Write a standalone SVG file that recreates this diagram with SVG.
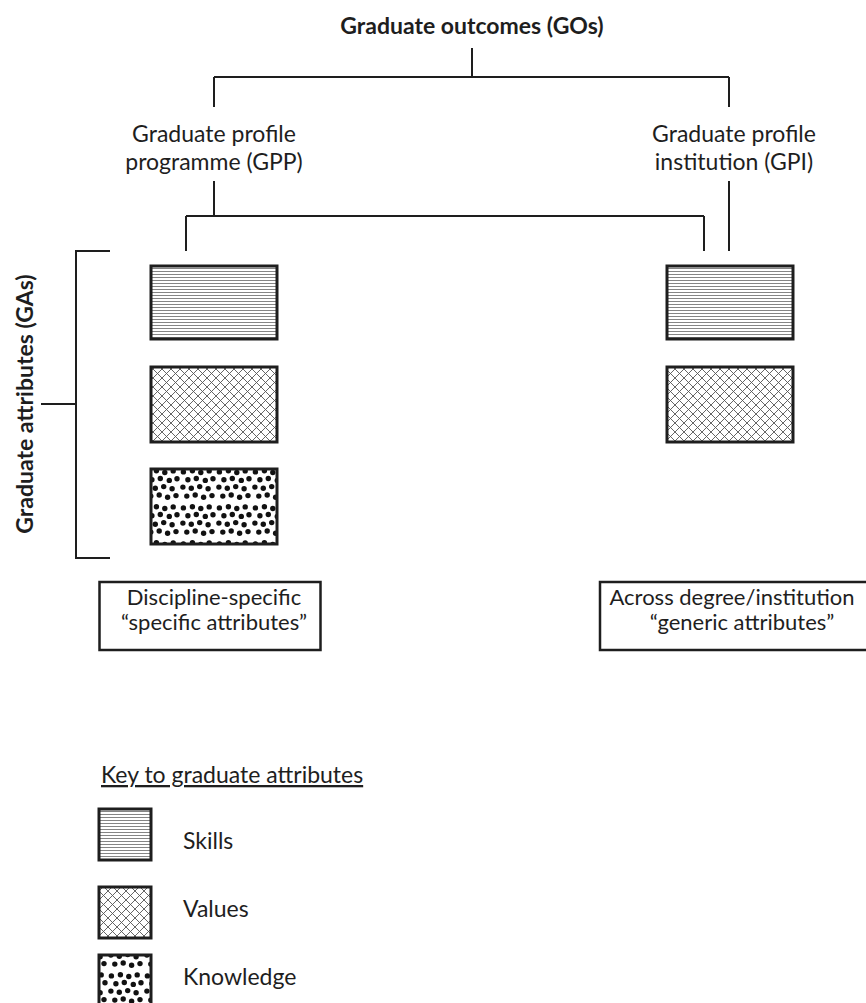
<svg xmlns="http://www.w3.org/2000/svg" width="866" height="1003" viewBox="0 0 866 1003">
<style>
text{font-family:Lato,"Liberation Sans",sans-serif;fill:#1e1e1e;font-size:23px}
.b{font-weight:bold}
.m{text-anchor:middle}
.s{font-size:22px}
.ln{fill:none;stroke:#1e1e1e;stroke-width:2}
.box{stroke:#1e1e1e;stroke-width:3}
.lbl{fill:#fff;stroke:#1e1e1e;stroke-width:2.5}
</style>
<defs>
<pattern id="skills" width="10" height="3" patternUnits="userSpaceOnUse">
<rect width="10" height="3" fill="#fff"/>
<rect y="1" width="10" height="1" fill="#858585"/>
</pattern>
<pattern id="values" width="9" height="9" patternUnits="userSpaceOnUse">
<rect width="9" height="9" fill="#fff"/>
<path d="M0,0L9,9M9,0L0,9" stroke="#555" stroke-width="0.9"/>
</pattern>
<pattern id="knowledge" width="36" height="36" patternUnits="userSpaceOnUse">
<rect width="36" height="36" fill="#fff"/>
<g fill="#111">
<circle cx="3.4" cy="3.9" r="2.7"/><circle cx="12.4" cy="2.8" r="2.7"/><circle cx="20.8" cy="4.5" r="2.7"/><circle cx="29.2" cy="2.9" r="2.7"/>
<circle cx="7.9" cy="11.8" r="2.7"/><circle cx="16.3" cy="10.5" r="2.7"/><circle cx="25.3" cy="12.4" r="2.7"/><circle cx="33" cy="10.7" r="2.7"/>
<circle cx="2.9" cy="19.1" r="2.7"/><circle cx="11.3" cy="20.3" r="2.7"/><circle cx="19.7" cy="18.6" r="2.7"/><circle cx="28.1" cy="20.8" r="2.7"/>
<circle cx="6.8" cy="28.1" r="2.7"/><circle cx="15.2" cy="27" r="2.7"/><circle cx="23.6" cy="29.3" r="2.7"/><circle cx="32" cy="27.6" r="2.7"/>
</g>
</pattern>
</defs>

<g id="connectors">
<path class="ln" d="M472,48V77M214,77H729M214,77V107M729,77V107"/>
<path class="ln" d="M214,181V216M186,216H704M186,216V251M704,216V251M729,181V251"/>
<path class="ln" d="M110,251H76V558H110M41,404H76"/>
</g>

<g id="go"><text class="b m" x="472" y="34">Graduate outcomes (GOs)</text></g>
<g id="gpp"><text class="m" x="214" y="142">Graduate profile</text><text class="m" x="214" y="170">programme (GPP)</text></g>
<g id="gpi"><text class="m" x="734" y="142">Graduate profile</text><text class="m" x="734" y="170">institution (GPI)</text></g>
<g id="ga"><text class="b m" transform="translate(33,404) rotate(-90)">Graduate attributes (GAs)</text></g>

<g id="gpp-skills"><rect class="box" x="151" y="266" width="126" height="73" fill="url(#skills)"/></g>
<g id="gpp-values"><rect class="box" x="151" y="367" width="126" height="75" fill="url(#values)"/></g>
<g id="gpp-knowledge"><rect class="box" x="151" y="469" width="126" height="75" fill="url(#knowledge)"/></g>
<g id="gpi-skills"><rect class="box" x="667" y="266" width="126" height="73" fill="url(#skills)"/></g>
<g id="gpi-values"><rect class="box" x="667" y="367" width="126" height="75" fill="url(#values)"/></g>

<g id="specific"><rect class="lbl" x="99.5" y="582" width="221" height="68"/>
<text class="m s" x="214" y="605">Discipline-specific</text><text class="m s" x="214" y="630">“specific attributes”</text></g>
<g id="generic"><rect class="lbl" x="600" y="582" width="290" height="68"/>
<text class="m s" x="732" y="605">Across degree/institution</text><text class="m s" x="742" y="630">“generic attributes”</text></g>

<g id="key">
<text x="101" y="783" text-decoration="underline">Key to graduate attributes</text>
<rect class="box" x="99" y="809" width="52" height="51" fill="url(#skills)"/>
<text x="183" y="849">Skills</text>
<rect class="box" x="99" y="887" width="52" height="51" fill="url(#values)"/>
<text x="183" y="917">Values</text>
<rect class="box" x="99" y="955" width="52" height="52" fill="url(#knowledge)"/>
<text x="183" y="985">Knowledge</text>
</g>
</svg>
